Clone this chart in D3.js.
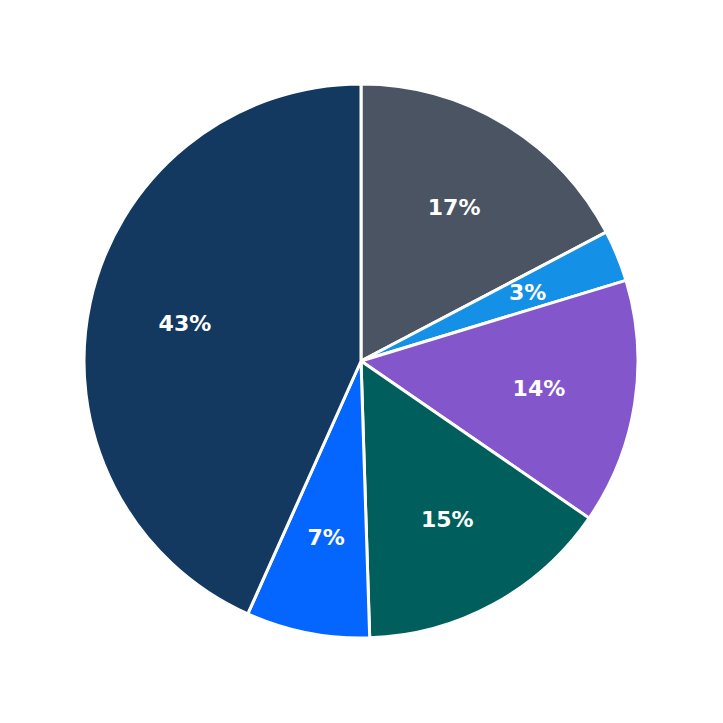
<!DOCTYPE html>
<html><head><meta charset="utf-8">
<script src="https://cdn.jsdelivr.net/npm/d3@7"></script>
<style>html,body{margin:0;background:#fff}</style>
</head><body><div id="chart"></div>
<script>
// Anteile im Uhrzeigersinn ab 12 Uhr
const shares = [17.3, 3.0, 14.3, 14.9, 7.2, 43.3];
const colors = ["#4a5462", "#1490e6", "#8456cc", "#005f5c", "#0466fe", "#143961"];

const W = 723, H = 723, cx = 361, cy = 361, R = 277;
const svg = d3.select("#chart").append("svg").attr("width", W).attr("height", H);
const g = svg.append("g").attr("transform", `translate(${cx},${cy})`);

const pie = d3.pie().sort(null).value(d => d)(shares);
const arc = d3.arc().innerRadius(0).outerRadius(R);
const lab = d3.arc().innerRadius(R * 0.65).outerRadius(R * 0.65);

g.selectAll("path").data(pie).join("path")
  .attr("d", arc).attr("fill", (d, i) => colors[i])
  .attr("stroke", "#fff").attr("stroke-width", 3).attr("stroke-linejoin", "round");

g.selectAll("text").data(pie).join("text")
  .attr("transform", d => `translate(${lab.centroid(d)})`)
  .attr("text-anchor", "middle").attr("dy", "0.35em")
  .attr("font-family", "DejaVu Sans").attr("font-weight", "bold").attr("font-size", 22)
  .attr("fill", "#fff")
  .text(d => Math.round(d.value) + "%");
</script></body></html>
